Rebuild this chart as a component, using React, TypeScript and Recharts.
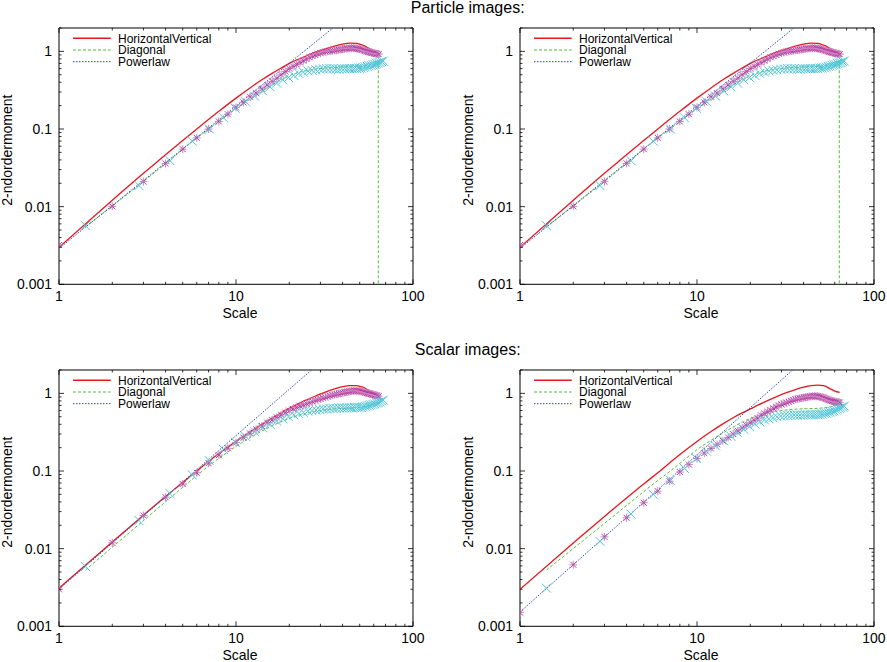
import { ComposedChart, Line, Scatter, XAxis, YAxis, ReferenceArea, Legend } from "recharts"

// sample positions (pixel offsets along the x axis: integer lags and diagonal lags)
const HV_SCALES = [
  1, 2, 3, 4, 5, 6, 7, 8, 9, 10, 11, 12, 13, 14, 15, 16, 17, 18, 19, 20, 21, 22, 23, 24, 25, 26, 27, 28, 29, 30, 31, 32,
  33, 34, 35, 36, 37, 38, 39, 40, 41, 42, 43, 44, 45, 46, 47, 48, 49, 50, 51, 52, 53, 54, 55, 56, 57, 58, 59, 60, 61, 62, 63, 64,
]
const DIAG_SCALES = [
  1.41, 2.83, 4.24, 5.66, 7.07, 8.49, 9.9, 11.31, 12.73, 14.14, 15.56, 16.97, 18.38, 19.8, 21.21, 22.63, 24.04, 25.46,
  26.87, 28.28, 29.7, 31.11, 32.53, 33.94, 35.36, 36.77, 38.18, 39.6, 41.01, 42.43, 43.84, 45.25, 46.67, 48.08, 49.5,
  50.91, 52.33, 53.74, 55.15, 56.57, 57.98, 59.4, 60.81, 62.23, 63.64, 65.05, 66.47, 67.88,
]
const HV_LINE_SCALES = [1, 2, 3, 4, 5, 6, 8, 10, 12, 14, 16, 18, 20, 24, 28, 32, 36, 40, 44, 48, 52, 56, 60, 64]
const DIAG_LINE_SCALES = [1.41, 2.83, 4.24, 5.66, 7.07, 8.49, 9.9, 12.73, 15.56, 18.38, 21.21, 25.46, 29.7, 35.36, 42.43, 49.5, 56.57, 63.64]

const X_TICKS = [1, 2, 3, 4, 5, 6, 7, 8, 9, 10, 20, 30, 40, 50, 60, 70, 80, 90, 100]
const X_MAJOR = [1, 10, 100]
const Y_TICKS = [
  0.001, 0.002, 0.003, 0.004, 0.005, 0.006, 0.007, 0.008, 0.009, 0.01, 0.02, 0.03, 0.04, 0.05, 0.06, 0.07, 0.08, 0.09,
  0.1, 0.2, 0.3, 0.4, 0.5, 0.6, 0.7, 0.8, 0.9, 1, 2,
]
const Y_MAJOR = [0.001, 0.01, 0.1, 1]

// ---- Particle images ----
const PART_HV_LINE = [0.003, 0.0121, 0.027, 0.0465, 0.0713, 0.1, 0.169, 0.25, 0.338, 0.43, 0.52, 0.61, 0.7, 0.84, 0.97, 1.08, 1.17, 1.24, 1.28, 1.27, 1.2, 1.1, 1.0, 0.95]
const PART_DIAG_LINE = [0.0055, 0.019, 0.04, 0.069, 0.101, 0.138, 0.18, 0.265, 0.355, 0.44, 0.51, 0.57, 0.6, 0.62, 0.63, 0.64, 0.67, 0.76]
const PART_DIAG_DROP = [{ x: 63.7, y: 0.00001 }]
const PART_POWER = [{ x: 1, y: 0.0029 }, { x: 35.3, y: 2 }]
const PART_HV_MARKS = [
  0.0032, 0.0101, 0.021, 0.036, 0.055, 0.077, 0.1, 0.125, 0.155, 0.19, 0.22, 0.26, 0.29, 0.33, 0.37, 0.41, 0.45, 0.5, 0.55, 0.6,
  0.64, 0.68, 0.72, 0.76, 0.8, 0.84, 0.87, 0.9, 0.93, 0.95, 0.97, 0.99, 1.0, 1.01, 1.02, 1.03, 1.04, 1.05, 1.06, 1.07, 1.08, 1.09,
  1.09, 1.1, 1.1, 1.1, 1.1, 1.09, 1.08, 1.07, 1.06, 1.05, 1.03, 1.02, 1.0, 0.99, 0.98, 0.97, 0.96, 0.95, 0.94, 0.93, 0.93, 0.92,
]
const PART_DIAG_MARKS = [
  0.0057, 0.0187, 0.039, 0.07, 0.1, 0.14, 0.185, 0.225, 0.265, 0.31, 0.35, 0.39, 0.43, 0.46, 0.49, 0.52, 0.54, 0.56, 0.57, 0.58,
  0.59, 0.595, 0.6, 0.6, 0.6, 0.59, 0.59, 0.6, 0.6, 0.6, 0.6, 0.6, 0.6, 0.6, 0.61, 0.61, 0.62, 0.63, 0.64, 0.65, 0.66, 0.67,
  0.68, 0.7, 0.71, 0.72, 0.74, 0.75,
]

// ---- Scalar images (left) ----
const SCA_HV_LINE = [0.0031, 0.0122, 0.027, 0.047, 0.071, 0.1, 0.168, 0.242, 0.32, 0.4, 0.48, 0.56, 0.64, 0.79, 0.92, 1.04, 1.14, 1.22, 1.26, 1.26, 1.2, 1.1, 1.01, 0.95]
const SCA_DIAG_LINE = [0.0053, 0.0205, 0.045, 0.078, 0.118, 0.16, 0.205, 0.29, 0.37, 0.44, 0.5, 0.56, 0.6, 0.63, 0.645, 0.66, 0.7, 0.77]
const SCA_POWER = [{ x: 1, y: 0.003 }, { x: 26.7, y: 2 }]
const SCA_HV_MARKS = [
  0.003, 0.0119, 0.0267, 0.046, 0.068, 0.095, 0.126, 0.16, 0.196, 0.232, 0.27, 0.305, 0.345, 0.38, 0.42, 0.455, 0.49, 0.53, 0.565, 0.6,
  0.63, 0.66, 0.69, 0.71, 0.74, 0.76, 0.79, 0.81, 0.83, 0.85, 0.87, 0.89, 0.91, 0.93, 0.95, 0.96, 0.98, 0.99, 1.0, 1.02, 1.03, 1.04,
  1.05, 1.06, 1.07, 1.08, 1.08, 1.08, 1.08, 1.07, 1.06, 1.05, 1.04, 1.02, 1.01, 1.0, 0.99, 0.98, 0.97, 0.96, 0.95, 0.94, 0.93, 0.92,
]
const SCA_DIAG_MARKS = [
  0.0059, 0.023, 0.051, 0.089, 0.136, 0.19, 0.235, 0.28, 0.32, 0.36, 0.4, 0.44, 0.47, 0.5, 0.53, 0.55, 0.57, 0.59, 0.6, 0.61,
  0.62, 0.63, 0.63, 0.64, 0.64, 0.64, 0.65, 0.65, 0.65, 0.65, 0.65, 0.65, 0.66, 0.66, 0.66, 0.66, 0.67, 0.68, 0.69, 0.7, 0.71, 0.72,
  0.73, 0.75, 0.76, 0.78, 0.8, 0.82,
]

// ---- Scalar images (right) ----
const SCB_HV_LINE = [0.003, 0.0118, 0.026, 0.045, 0.068, 0.095, 0.163, 0.24, 0.322, 0.405, 0.485, 0.56, 0.63, 0.77, 0.9, 1.02, 1.12, 1.2, 1.26, 1.28, 1.26, 1.16, 1.07, 1.03]
const SCB_DIAG_LINE = [0.0053, 0.019, 0.04, 0.068, 0.1, 0.14, 0.185, 0.27, 0.355, 0.435, 0.5, 0.565, 0.6, 0.625, 0.635, 0.645, 0.67, 0.72]
const SCB_POWER = [{ x: 1, y: 0.00153 }, { x: 34.7, y: 2 }]
const SCB_HV_MARKS = [
  0.0015, 0.0062, 0.0142, 0.025, 0.039, 0.055, 0.074, 0.097, 0.121, 0.145, 0.17, 0.195, 0.22, 0.245, 0.27, 0.3, 0.33, 0.36, 0.39, 0.42,
  0.45, 0.48, 0.52, 0.55, 0.58, 0.61, 0.64, 0.67, 0.7, 0.72, 0.74, 0.76, 0.78, 0.8, 0.82, 0.84, 0.85, 0.86, 0.87, 0.88, 0.89, 0.9,
  0.91, 0.91, 0.92, 0.92, 0.92, 0.92, 0.91, 0.9, 0.89, 0.88, 0.86, 0.85, 0.83, 0.82, 0.81, 0.8, 0.79, 0.78, 0.78, 0.77, 0.77, 0.76,
]
const SCB_DIAG_MARKS = [
  0.0031, 0.0124, 0.028, 0.05, 0.076, 0.108, 0.145, 0.18, 0.21, 0.245, 0.28, 0.31, 0.345, 0.375, 0.405, 0.43, 0.455, 0.47, 0.485, 0.5,
  0.51, 0.515, 0.52, 0.52, 0.525, 0.525, 0.525, 0.525, 0.53, 0.53, 0.53, 0.53, 0.53, 0.53, 0.535, 0.54, 0.55, 0.555, 0.565, 0.575,
  0.585, 0.595, 0.61, 0.625, 0.64, 0.655, 0.67, 0.685,
]

const RED = "#e8161e"
const GREEN = "#4cc234"
const BLUE = "#2a46b8"
const MAGENTA = "#b4409e"
const MAGENTA_LIGHT = "#cf86c6"
const CYAN = "#4ec4da"

const PLOT_W = 354
const PLOT_H = 256.3
const MARGIN = { top: 28, right: 12, bottom: 6, left: 10 }
const Y_AXIS_W = 50
const X_AXIS_H = 40
const CHART_W = MARGIN.left + Y_AXIS_W + PLOT_W + MARGIN.right
const CHART_H = MARGIN.top + PLOT_H + X_AXIS_H + MARGIN.bottom

const pairs = (xs: number[], ys: number[]) => ys.map((y, i) => ({ x: xs[i], y }))

function XTick({ x, y, payload }: any) {
  const v = payload.value
  const major = X_MAJOR.includes(v)
  const len = major ? 5 : 2.5
  return (
    <g>
      <line x1={x} x2={x} y1={y} y2={y - len} stroke="#000" strokeWidth={0.8} />
      <line x1={x} x2={x} y1={MARGIN.top} y2={MARGIN.top + len} stroke="#000" strokeWidth={0.8} />
      {major && (
        <text x={x} y={y + 16.5} textAnchor="middle" fontSize={14} fill="#000">
          {v}
        </text>
      )}
    </g>
  )
}

function YTick({ x, y, payload }: any) {
  const v = payload.value
  const major = Y_MAJOR.includes(v)
  const len = major ? 5 : 2.5
  return (
    <g>
      <line x1={x} x2={x + len} y1={y} y2={y} stroke="#000" strokeWidth={0.8} />
      <line x1={x + PLOT_W} x2={x + PLOT_W - len} y1={y} y2={y} stroke="#000" strokeWidth={0.8} />
      {major && (
        <text x={x - 7} y={y + 5} textAnchor="end" fontSize={14} fill="#000">
          {String(v)}
        </text>
      )}
    </g>
  )
}

function PlusCross({ cx, cy }: any) {
  if (cx == null || cy == null) return null
  return (
    <g>
      <path d={`M${cx - 4},${cy}H${cx + 4}M${cx},${cy - 4}V${cy + 4}`} stroke={MAGENTA_LIGHT} strokeWidth={1} fill="none" />
      <path d={`M${cx - 3},${cy - 3}L${cx + 3},${cy + 3}M${cx - 3},${cy + 3}L${cx + 3},${cy - 3}`} stroke={MAGENTA} strokeWidth={1} fill="none" />
    </g>
  )
}

function Cross({ cx, cy }: any) {
  if (cx == null || cy == null) return null
  return (
    <path d={`M${cx - 4.5},${cy - 4.5}L${cx + 4.5},${cy + 4.5}M${cx - 4.5},${cy + 4.5}L${cx + 4.5},${cy - 4.5}`} stroke={CYAN} strokeWidth={1} fill="none" />
  )
}

const LEGEND_ITEMS = [
  { name: "HorizontalVertical", color: RED, dash: undefined, width: 1.5 },
  { name: "Diagonal", color: GREEN, dash: "3 2", width: 1 },
  { name: "Powerlaw", color: BLUE, dash: "1.5 1.5", width: 1 },
]

function LegendBox() {
  return (
    <svg width={170} height={40} style={{ display: "block" }}>
      {LEGEND_ITEMS.map((it, i) => (
        <g key={it.name}>
          <line x1={0} x2={37.7} y1={8.3 + i * 11.7} y2={8.3 + i * 11.7} stroke={it.color} strokeWidth={it.width} strokeDasharray={it.dash} />
          <text x={45} y={12.6 + i * 11.7} fontSize={12} fill="#000">
            {it.name}
          </text>
        </g>
      ))}
    </svg>
  )
}

interface PanelProps {
  left: number
  top: number
  hvLine: { x: number; y: number }[]
  diagLine: { x: number; y: number }[]
  power: { x: number; y: number }[]
  hvMarks: { x: number; y: number }[]
  diagMarks: { x: number; y: number }[]
}

function Panel({ left, top, hvLine, diagLine, power, hvMarks, diagMarks }: PanelProps) {
  return (
    <div style={{ position: "absolute", left, top }}>
      <ComposedChart width={CHART_W} height={CHART_H} margin={MARGIN}>
        <XAxis
          type="number"
          dataKey="x"
          scale="log"
          domain={[1, 100]}
          allowDataOverflow
          ticks={X_TICKS}
          interval={0}
          tick={<XTick />}
          tickLine={false}
          axisLine={false}
          tickSize={0}
          tickMargin={0}
          height={X_AXIS_H}
          label={{
            content: (p: any) => (
              <text x={p.viewBox.x + p.viewBox.width / 2 + 4} y={p.viewBox.y + 34} textAnchor="middle" fontSize={14} fill="#000">
                Scale
              </text>
            ),
          }}
        />
        <YAxis
          type="number"
          dataKey="y"
          scale="log"
          domain={[0.001, 2]}
          allowDataOverflow
          ticks={Y_TICKS}
          interval={0}
          tick={<YTick />}
          tickLine={false}
          axisLine={false}
          tickSize={0}
          tickMargin={0}
          width={Y_AXIS_W}
          label={{
            content: (p: any) => {
              const x = p.viewBox.x + 3
              const y = p.viewBox.y + p.viewBox.height / 2 - 6
              return (
                <text x={x} y={y} transform={`rotate(-90, ${x}, ${y})`} textAnchor="middle" fontSize={14} fill="#000">
                  2-ndordermoment
                </text>
              )
            },
          }}
        />
        <ReferenceArea x1={1} x2={100} y1={0.001} y2={2} fill="none" stroke="#000" strokeWidth={1} ifOverflow="visible" />
        <Line type="monotone" data={hvLine} dataKey="y" stroke={RED} strokeWidth={1.3} dot={false} activeDot={false} isAnimationActive={false} />
        <Line type="monotone" data={diagLine} dataKey="y" stroke={GREEN} strokeWidth={1} strokeDasharray="3 2" dot={false} activeDot={false} isAnimationActive={false} />
        <Line data={power} dataKey="y" stroke={BLUE} strokeWidth={1} strokeDasharray="1.5 1.5" dot={false} activeDot={false} isAnimationActive={false} />
        <Scatter data={hvMarks} shape={<PlusCross />} isAnimationActive={false} />
        <Scatter data={diagMarks} shape={<Cross />} isAnimationActive={false} />
        <Legend
          layout="vertical"
          align="center"
          verticalAlign="middle"
          wrapperStyle={{ left: MARGIN.left + Y_AXIS_W + 14, top: MARGIN.top + 2, width: 170 }}
          content={() => <LegendBox />}
        />
      </ComposedChart>
    </div>
  )
}

const titleStyle: React.CSSProperties = {
  position: "absolute",
  left: 367.7,
  width: 200,
  textAlign: "center",
  fontSize: 16,
  lineHeight: "16px",
}

export default function App() {
  const partHvLine = pairs(HV_LINE_SCALES, PART_HV_LINE)
  const partDiagLine = [...pairs(DIAG_LINE_SCALES, PART_DIAG_LINE), ...PART_DIAG_DROP]
  const partHvMarks = pairs(HV_SCALES, PART_HV_MARKS)
  const partDiagMarks = pairs(DIAG_SCALES, PART_DIAG_MARKS)

  return (
    <div
      style={{
        position: "absolute",
        left: 0,
        top: 0,
        width: 887,
        height: 662,
        background: "#fff",
        fontFamily: '"Liberation Sans", Arial, sans-serif',
        color: "#000",
        overflow: "hidden",
      }}
    >
      <div style={{ ...titleStyle, top: 0 }}>Particle images:</div>
      <div style={{ ...titleStyle, top: 341.5 }}>Scalar images:</div>
      <Panel left={-0.7} top={-0.3} hvLine={partHvLine} diagLine={partDiagLine} power={PART_POWER} hvMarks={partHvMarks} diagMarks={partDiagMarks} />
      <Panel left={460.3} top={-0.3} hvLine={partHvLine} diagLine={partDiagLine} power={PART_POWER} hvMarks={partHvMarks} diagMarks={partDiagMarks} />
      <Panel
        left={-0.7}
        top={342}
        hvLine={pairs(HV_LINE_SCALES, SCA_HV_LINE)}
        diagLine={pairs(DIAG_LINE_SCALES, SCA_DIAG_LINE)}
        power={SCA_POWER}
        hvMarks={pairs(HV_SCALES, SCA_HV_MARKS)}
        diagMarks={pairs(DIAG_SCALES, SCA_DIAG_MARKS)}
      />
      <Panel
        left={460}
        top={342}
        hvLine={pairs(HV_LINE_SCALES, SCB_HV_LINE)}
        diagLine={pairs(DIAG_LINE_SCALES, SCB_DIAG_LINE)}
        power={SCB_POWER}
        hvMarks={pairs(HV_SCALES, SCB_HV_MARKS)}
        diagMarks={pairs(DIAG_SCALES, SCB_DIAG_MARKS)}
      />
    </div>
  )
}
